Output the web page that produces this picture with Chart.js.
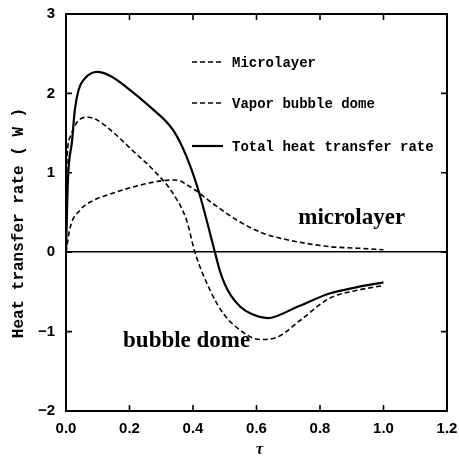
<!DOCTYPE html>
<html>
<head>
<meta charset="utf-8">
<script src="https://cdn.jsdelivr.net/npm/chart.js@4"></script>
<style>
html,body{margin:0;padding:0;background:#fff;}
#wrap{width:459px;height:464px;}
</style>
</head>
<body>
<div id="wrap"><canvas id="c" width="459" height="464"></canvas></div>
<script>
// ---- data ----
const xTicks = [0.0, 0.2, 0.4, 0.6, 0.8, 1.0, 1.2];
const yTicks = [-2, -1, 0, 1, 2, 3];

const microTau = [0, 0.013, 0.044, 0.085, 0.13, 0.21, 0.286, 0.343, 0.40, 0.46, 0.54, 0.62, 0.705, 0.83, 0.92, 1.0];
const microVal = [0, 0.31, 0.53, 0.65, 0.72, 0.82, 0.89, 0.91, 0.80, 0.62, 0.40, 0.24, 0.15, 0.07, 0.05, 0.03];

const domeTau = [0, 0.003, 0.013, 0.035, 0.07, 0.10, 0.14, 0.21, 0.286, 0.337, 0.38, 0.406, 0.454, 0.495, 0.548, 0.61, 0.665, 0.737, 0.83, 0.917, 1.0];
const domeVal = [0, 1.12, 1.45, 1.64, 1.70, 1.66, 1.54, 1.28, 0.99, 0.74, 0.40, 0.0, -0.48, -0.77, -0.98, -1.10, -1.07, -0.86, -0.58, -0.48, -0.42];

const totalTau = [0, 0.006, 0.019, 0.028, 0.04, 0.06, 0.098, 0.14, 0.19, 0.265, 0.337, 0.38, 0.42, 0.469, 0.485, 0.50, 0.52, 0.55, 0.58, 0.636, 0.727, 0.83, 0.917, 1.0];
const totalVal = [0, 0.9, 1.40, 1.80, 2.05, 2.19, 2.27, 2.22, 2.08, 1.83, 1.54, 1.20, 0.74, 0.0, -0.24, -0.40, -0.55, -0.69, -0.77, -0.83, -0.69, -0.52, -0.44, -0.38];

const seriesNames = ["Microlayer", "Vapor bubble dome", "Total heat transfer rate"];
const annotations = [
  {text: "microlayer", x: 0.90, y: 0.36},
  {text: "bubble dome", x: 0.38, y: -1.2}
];
const yTitle = "Heat transfer rate ( W )";
const xTitle = "τ";

function pts(t, v){ return t.map((x,i)=>({x:x, y:v[i]})); }

const LEFT = 66, RIGHT_PAD = 12, TOP = 14, BOTTOM_H = 53;

const extras = {
  id: 'extras',
  afterDatasetsDraw(chart){
    const ctx = chart.ctx, a = chart.chartArea;
    const xs = chart.scales.x, ys = chart.scales.y;
    ctx.save();
    // frame
    ctx.strokeStyle = '#000'; ctx.lineWidth = 2;
    ctx.strokeRect(a.left, a.top, a.right - a.left, a.bottom - a.top);
    // inward ticks
    ctx.lineWidth = 1.6;
    const tl = 6;
    xTicks.forEach(v=>{
      if (v <= 0 || v >= 1.2) return;
      const px = xs.getPixelForValue(v);
      ctx.beginPath();
      ctx.moveTo(px, a.bottom); ctx.lineTo(px, a.bottom - tl);
      ctx.moveTo(px, a.top); ctx.lineTo(px, a.top + tl);
      ctx.stroke();
    });
    yTicks.forEach(v=>{
      if (v <= -2 || v >= 3) return;
      const py = ys.getPixelForValue(v);
      ctx.beginPath();
      ctx.moveTo(a.left, py); ctx.lineTo(a.left + tl, py);
      ctx.moveTo(a.right, py); ctx.lineTo(a.right - tl, py);
      ctx.stroke();
    });
    // legend
    const legY = [62, 103, 146];
    ctx.font = 'bold 14px "Liberation Mono", "DejaVu Sans Mono", monospace';
    ctx.textBaseline = 'middle'; ctx.textAlign = 'left';
    chart.data.datasets.forEach((ds, i)=>{
      ctx.save();
      ctx.strokeStyle = '#000';
      ctx.lineWidth = ds.borderWidth;
      ctx.setLineDash(ds.borderDash || []);
      ctx.beginPath();
      ctx.moveTo(192, legY[i]); ctx.lineTo(223, legY[i]);
      ctx.stroke();
      ctx.restore();
      ctx.fillStyle = '#000';
      ctx.fillText(seriesNames[i], 232, legY[i] + 1);
    });
    // annotations
    ctx.font = 'bold 23px "Liberation Serif", "DejaVu Serif", serif';
    ctx.textAlign = 'center'; ctx.textBaseline = 'alphabetic';
    annotations.forEach(an=>{
      ctx.fillText(an.text, xs.getPixelForValue(an.x), ys.getPixelForValue(an.y));
    });
    // y title
    ctx.save();
    ctx.translate(19, 223);
    ctx.rotate(-Math.PI/2);
    ctx.font = 'bold 16px "Liberation Mono", "DejaVu Sans Mono", monospace';
    ctx.textAlign = 'center'; ctx.textBaseline = 'middle';
    ctx.fillText(yTitle, 0, 0);
    ctx.restore();
    // x title
    ctx.font = 'italic bold 16px "Liberation Serif", serif';
    ctx.textAlign = 'center'; ctx.textBaseline = 'middle';
    ctx.fillText(xTitle, xs.getPixelForValue(0.6) + 3, 450);
    ctx.restore();
  }
};

new Chart(document.getElementById('c'), {
  type: 'line',
  data: {
    datasets: [
      {label: seriesNames[0], data: pts(microTau, microVal), borderColor:'#000', borderWidth:1.6, borderDash:[5,3], pointRadius:0, fill:false, cubicInterpolationMode:'monotone'},
      {label: seriesNames[1], data: pts(domeTau, domeVal), borderColor:'#000', borderWidth:1.6, borderDash:[5,3], pointRadius:0, fill:false, cubicInterpolationMode:'monotone'},
      {label: seriesNames[2], data: pts(totalTau, totalVal), borderColor:'#000', borderWidth:2.2, borderDash:[], pointRadius:0, fill:false, cubicInterpolationMode:'monotone'}
    ]
  },
  options: {
    responsive: false,
    animation: false,
    devicePixelRatio: 1,
    layout: {padding: {left: 0, right: RIGHT_PAD, top: TOP, bottom: 0}},
    plugins: {legend: {display:false}, tooltip: {enabled:false}},
    scales: {
      x: {
        type: 'linear', min: 0, max: 1.2,
        afterFit(s){ s.height = BOTTOM_H; s.paddingLeft = 0; s.paddingRight = 0; },
        afterBuildTicks(s){ s.ticks = xTicks.map(v=>({value:v})); },
        ticks: {callback: v => v.toFixed(1), color:'#000', padding: 9, maxRotation:0,
                font: {family:'"Liberation Sans", Arial, sans-serif', size: 15, weight:'bold'}},
        grid: {display: false, drawTicks: false},
        border: {display: true, color:'#000', width: 2}
      },
      y: {
        type: 'linear', min: -2, max: 3,
        afterFit(s){ s.width = LEFT; s.paddingTop = 0; s.paddingBottom = 0; },
        afterBuildTicks(s){ s.ticks = yTicks.map(v=>({value:v})); },
        ticks: {callback: v => (v < 0 ? '\u2212' + Math.abs(v) : String(v)), color:'#000', padding: 11,
                font: {family:'"Liberation Sans", Arial, sans-serif', size: 15, weight:'bold'}},
        grid: {drawTicks: false, drawOnChartArea: true,
               color: c => (c.tick && c.tick.value === 0) ? '#000' : 'rgba(0,0,0,0)', lineWidth: 1.6},
        border: {display: true, color:'#000', width: 2}
      }
    }
  },
  plugins: [extras]
});
</script>
</body>
</html>
